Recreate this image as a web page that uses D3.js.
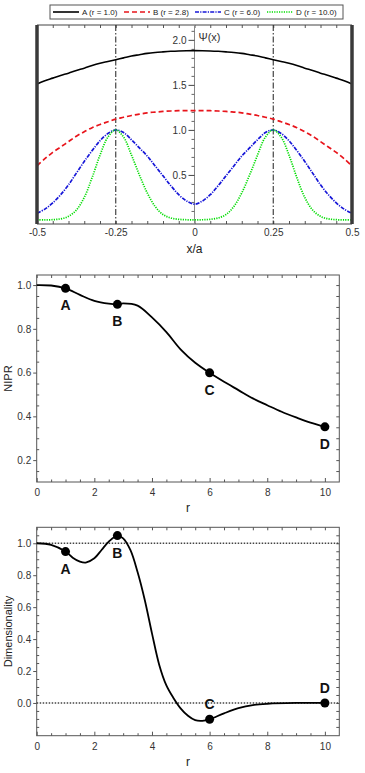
<!DOCTYPE html>
<html>
<head>
<meta charset="utf-8">
<script src="https://cdn.jsdelivr.net/npm/d3@7"></script>
<style>
  body { margin: 0; background: #fff; }
  text { font-family: "Liberation Sans", Arial, sans-serif; }
</style>
</head>
<body>
<div id="chart"></div>
<script>
// ---------- data ----------
// wavefunction panel, x/a from -0.5 to 0.5
const psiX = [-0.5,-0.475,-0.45,-0.425,-0.4,-0.375,-0.35,-0.325,-0.3,-0.275,-0.25,-0.225,-0.2,-0.175,-0.15,-0.125,-0.1,-0.075,-0.05,-0.025,0,
  0.025,0.05,0.075,0.1,0.125,0.15,0.175,0.2,0.225,0.25,0.275,0.3,0.325,0.35,0.375,0.4,0.425,0.45,0.475,0.5]
const psiA = [1.51,1.545,1.575,1.605,1.63,1.66,1.685,1.715,1.74,1.76,1.78,1.80,1.82,1.835,1.85,1.86,1.867,1.873,1.877,1.879,1.88,
  1.879,1.877,1.873,1.867,1.86,1.85,1.835,1.82,1.80,1.78,1.76,1.74,1.715,1.685,1.66,1.63,1.605,1.575,1.545,1.51]
const psiB = [0.60,0.68,0.75,0.81,0.87,0.93,0.98,1.025,1.06,1.09,1.12,1.14,1.16,1.175,1.19,1.198,1.205,1.21,1.213,1.215,1.215,
  1.215,1.213,1.21,1.205,1.198,1.19,1.175,1.16,1.14,1.12,1.09,1.06,1.025,0.98,0.93,0.87,0.81,0.75,0.68,0.60]
const psiC = [0.075,0.12,0.19,0.28,0.39,0.52,0.65,0.77,0.88,0.96,1.0,0.97,0.89,0.80,0.71,0.60,0.49,0.38,0.28,0.21,0.175,
  0.21,0.28,0.38,0.49,0.60,0.71,0.80,0.89,0.97,1.0,0.96,0.88,0.77,0.65,0.52,0.39,0.28,0.19,0.12,0.075]
const psiD = [0.0,0.0,0.003,0.012,0.04,0.11,0.25,0.47,0.72,0.92,1.0,0.92,0.72,0.5,0.3,0.15,0.06,0.022,0.007,0.002,0.0,
  0.002,0.007,0.022,0.06,0.15,0.3,0.5,0.72,0.92,1.0,0.92,0.72,0.47,0.25,0.11,0.04,0.012,0.003,0.0,0.0]
const legendNames = ["A (r = 1.0)", "B (r = 2.8)", "C (r = 6.0)", "D (r = 10.0)"]
const wellCenters = [-0.25, 0.25]
const psiXTicks = [-0.5, -0.25, 0, 0.25, 0.5]
const psiXTickLabels = ["-0.5", "-0.25", "0", "0.25", "0.5"]
const psiYTicks = [0.5, 1.0, 1.5, 2.0]

// NIPR vs r
const rNipr = [0,0.5,1,1.5,2,2.5,2.8,3,3.5,4,4.5,5,5.5,6,6.5,7,7.5,8,8.5,9,9.5,10]
const nipr = [1.0,0.998,0.985,0.955,0.928,0.915,0.912,0.916,0.906,0.852,0.785,0.705,0.645,0.599,0.558,0.52,0.482,0.451,0.421,0.395,0.371,0.352]

// dimensionality vs r
const rDim = [0,0.5,1,1.25,1.5,1.7,2,2.25,2.5,2.8,3,3.25,3.5,3.75,4,4.25,4.5,4.75,5,5.25,5.5,5.75,6,6.5,7,7.5,8,9,10]
const dim = [1.0,0.99,0.948,0.91,0.885,0.879,0.906,0.958,1.01,1.048,1.031,0.958,0.82,0.645,0.436,0.24,0.11,0.03,-0.035,-0.08,-0.108,-0.112,-0.102,-0.065,-0.033,-0.013,-0.005,0.0,0.0]

const markNames = ["A", "B", "C", "D"]
const markR = [1.0, 2.8, 6.0, 10.0]
const markNipr = [0.985, 0.912, 0.599, 0.352]
const markDim = [0.948, 1.048, -0.102, 0.0]
const dimRefLines = [0, 1]

const rTicks = [0, 2, 4, 6, 8, 10]
const niprTicks = [0.2, 0.4, 0.6, 0.8, 1.0]
const dimTicks = [0.0, 0.2, 0.4, 0.6, 0.8, 1.0]

// ---------- svg ----------
let width = 365
let height = 773
let svg = d3.select("#chart")
  .append("svg")
  .attr("width", width)
  .attr("height", height)

let fmt1 = d3.format(".1f")

// ================= panel 1 : wavefunctions =================
let x1 = d3.scaleLinear().domain([-0.5, 0.5]).range([37, 352])
let y1 = d3.scaleLinear().domain([-0.045, 2.165]).range([224, 25])

// legend box
let legend = svg.append("g")
legend.append("rect")
  .attr("x", 50).attr("y", 5).attr("width", 293).attr("height", 14)
  .attr("fill", "#fff").attr("stroke", "#555")

let colors = ["#000", "#e8141b", "#1616d8", "#00dd00"]
let dashes = [null, "5,3", "4,1.2,1.2,1.2", "1.2,1.2"]
let legendX = [53, 124, 195, 267]

legendNames.forEach((name, i) => {
  legend.append("line")
    .attr("x1", legendX[i]).attr("x2", legendX[i] + 26)
    .attr("y1", 12).attr("y2", 12)
    .attr("stroke", colors[i]).attr("stroke-width", 1.6)
    .attr("stroke-dasharray", dashes[i])
  legend.append("text")
    .attr("x", legendX[i] + 29).attr("y", 15)
    .attr("font-size", 8).attr("fill", "#222")
    .text(name)
})

// x ticks along top and bottom edges (inside)
let psiMinor = d3.range(-0.5, 0.5001, 0.05)
svg.append("g")
  .attr("transform", "translate(0,224)")
  .attr("color", "#555")
  .call(d3.axisBottom(x1).tickValues(psiMinor).tickSize(-3).tickFormat(""))
  .select(".domain").remove()
svg.append("g")
  .attr("transform", "translate(0,25)")
  .attr("color", "#555")
  .call(d3.axisTop(x1).tickValues(psiMinor).tickSize(-3).tickFormat(""))
  .select(".domain").remove()

svg.append("line")
  .attr("x1", x1(-0.5)).attr("x2", x1(0.5)).attr("y1", 25).attr("y2", 25)
  .attr("stroke", "#444")
svg.append("line")
  .attr("x1", x1(-0.5)).attr("x2", x1(0.5)).attr("y1", 224).attr("y2", 224)
  .attr("stroke", "#444")

// x labels
let xLab1 = svg.append("g")
  .attr("transform", "translate(0,224)")
  .attr("color", "#333")
  .call(d3.axisBottom(x1).tickValues(psiXTicks).tickSize(0).tickPadding(5)
    .tickFormat((d, i) => psiXTickLabels[i]))
xLab1.select(".domain").remove()
xLab1.selectAll("text").attr("font-size", 10).attr("font-family", "Liberation Sans, Arial")

svg.append("text")
  .attr("x", x1(0)).attr("y", 253)
  .attr("text-anchor", "middle").attr("font-size", 12).attr("fill", "#222")
  .text("x/a")

// y axis drawn at x = 0
svg.append("line")
  .attr("x1", x1(0)).attr("x2", x1(0)).attr("y1", 25).attr("y2", 224)
  .attr("stroke", "#888")
let psiYMinor = d3.range(0.1, 2.15, 0.1).filter(v => Math.abs(v * 2 - Math.round(v * 2)) > 0.01)
svg.append("g")
  .attr("transform", `translate(${x1(0)},0)`)
  .attr("color", "#666")
  .call(d3.axisLeft(y1).tickValues(psiYMinor).tickSize(3).tickFormat(""))
  .select(".domain").remove()
let yAx1 = svg.append("g")
  .attr("transform", `translate(${x1(0)},0)`)
  .attr("color", "#444")
  .call(d3.axisLeft(y1).tickValues(psiYTicks).tickSize(6).tickPadding(2).tickFormat(fmt1))
yAx1.select(".domain").remove()
yAx1.selectAll("text").attr("font-size", 10).attr("fill", "#333").attr("font-family", "Liberation Sans, Arial")

svg.append("text")
  .attr("x", x1(0) + 4).attr("y", 41)
  .attr("font-size", 11).attr("fill", "#333")
  .text("\u03A8(x)")

// well centres
svg.selectAll(".well")
  .data(wellCenters)
  .enter()
  .append("line")
  .attr("x1", d => x1(d)).attr("x2", d => x1(d))
  .attr("y1", 25).attr("y2", 224)
  .attr("stroke", "#333").attr("stroke-width", 1.1)
  .attr("stroke-dasharray", "6,2,1.5,2")

// curves
let psiLine = d3.line()
  .x((d, i) => x1(psiX[i]))
  .y(d => y1(d))
  .curve(d3.curveCatmullRom)

let psiSeries = [psiA, psiB, psiC, psiD]
psiSeries.forEach((s, i) => {
  svg.append("path")
    .datum(s)
    .attr("d", psiLine)
    .attr("fill", "none")
    .attr("stroke", colors[i])
    .attr("stroke-width", i == 0 ? 1.6 : 1.7)
    .attr("stroke-dasharray", dashes[i])
})

// barrier walls
svg.selectAll(".wall")
  .data([-0.5, 0.5])
  .enter()
  .append("line")
  .attr("x1", d => x1(d)).attr("x2", d => x1(d))
  .attr("y1", 25).attr("y2", 224)
  .attr("stroke", "#3a3a3a").attr("stroke-width", 3.5)

// ================= panels 2 and 3 =================
function framePanel(x, y, top, bottom, majorY, minorY, yTitle) {
  let left = x.range()[0], right = x.range()[1]

  svg.append("rect")
    .attr("x", left).attr("y", top)
    .attr("width", right - left).attr("height", bottom - top)
    .attr("fill", "none").attr("stroke", "#555")

  let rMinor = d3.range(0.5, 10.5, 0.5).filter(v => v % 2 != 0)

  // bottom
  let bx = svg.append("g")
    .attr("transform", `translate(0,${bottom})`)
    .attr("color", "#555")
    .call(d3.axisBottom(x).tickValues(rTicks).tickSize(-4).tickPadding(7))
  bx.select(".domain").remove()
  bx.selectAll("text").attr("font-size", 10).attr("fill", "#333").attr("font-family", "Liberation Sans, Arial")
  svg.append("g")
    .attr("transform", `translate(0,${bottom})`)
    .attr("color", "#555")
    .call(d3.axisBottom(x).tickValues(rMinor).tickSize(-2.5).tickFormat(""))
    .select(".domain").remove()

  // top
  svg.append("g")
    .attr("transform", `translate(0,${top})`)
    .attr("color", "#555")
    .call(d3.axisTop(x).tickValues(rTicks.concat(rMinor)).tickSize(-3).tickFormat(""))
    .select(".domain").remove()

  // left
  let ly = svg.append("g")
    .attr("transform", `translate(${left},0)`)
    .attr("color", "#555")
    .call(d3.axisLeft(y).tickValues(majorY).tickSize(3.5).tickPadding(2).tickFormat(fmt1))
  ly.select(".domain").remove()
  ly.selectAll("text").attr("font-size", 10).attr("fill", "#333").attr("font-family", "Liberation Sans, Arial")
  svg.append("g")
    .attr("transform", `translate(${left},0)`)
    .attr("color", "#555")
    .call(d3.axisLeft(y).tickValues(minorY).tickSize(-2.5).tickFormat(""))
    .select(".domain").remove()

  // right
  svg.append("g")
    .attr("transform", `translate(${right},0)`)
    .attr("color", "#555")
    .call(d3.axisRight(y).tickValues(majorY.concat(minorY)).tickSize(-3).tickFormat(""))
    .select(".domain").remove()

  svg.append("text")
    .attr("x", (left + right) / 2).attr("y", bottom + 30)
    .attr("text-anchor", "middle").attr("font-size", 12).attr("fill", "#222")
    .text("r")

  svg.append("text")
    .attr("transform", `translate(12,${(top + bottom) / 2}) rotate(-90)`)
    .attr("text-anchor", "middle").attr("font-size", 11).attr("fill", "#222")
    .text(yTitle)
}

function drawMarks(x, y, vals, sides) {
  svg.selectAll(null)
    .data(vals)
    .enter()
    .append("circle")
    .attr("cx", (d, i) => x(markR[i]))
    .attr("cy", d => y(d))
    .attr("r", 4.5)
    .attr("fill", "#000")
  svg.selectAll(null)
    .data(vals)
    .enter()
    .append("text")
    .attr("x", (d, i) => x(markR[i]))
    .attr("y", (d, i) => y(d) + (sides[i] == "below" ? 22 : -10))
    .attr("text-anchor", "middle")
    .attr("font-size", 14).attr("font-weight", "bold").attr("fill", "#111")
    .text((d, i) => markNames[i])
}

// ---- panel 2 : NIPR ----
let x2 = d3.scaleLinear().domain([0, 10.5]).range([36.7, 339.3])
let y2 = d3.scaleLinear().domain([0.1, 1.046]).range([482, 275])
let niprMinor = d3.range(0.15, 1.04, 0.05).filter(v => Math.abs(v * 5 - Math.round(v * 5)) > 0.01)
framePanel(x2, y2, 275, 482, niprTicks, niprMinor, "NIPR")

svg.append("path")
  .datum(nipr)
  .attr("d", d3.line().x((d, i) => x2(rNipr[i])).y(d => y2(d)).curve(d3.curveCatmullRom))
  .attr("fill", "none").attr("stroke", "#000").attr("stroke-width", 1.8)
drawMarks(x2, y2, markNipr, ["below", "below", "below", "below"])

// ---- panel 3 : dimensionality ----
let x3 = d3.scaleLinear().domain([0, 10.5]).range([36.7, 339.3])
let y3 = d3.scaleLinear().domain([-0.205, 1.1]).range([735.7, 527.3])
let dimMinor = d3.range(-0.15, 1.1, 0.05).filter(v => Math.abs(v * 5 - Math.round(v * 5)) > 0.01)
framePanel(x3, y3, 527.3, 735.7, dimTicks, dimMinor, "Dimensionality")

svg.selectAll(null)
  .data(dimRefLines)
  .enter()
  .append("line")
  .attr("x1", x3(0)).attr("x2", x3(10.5))
  .attr("y1", d => y3(d)).attr("y2", d => y3(d))
  .attr("stroke", "#444").attr("stroke-width", 1.5)
  .attr("stroke-dasharray", "1.5,1.5")

svg.append("path")
  .datum(dim)
  .attr("d", d3.line().x((d, i) => x3(rDim[i])).y(d => y3(d)).curve(d3.curveCatmullRom))
  .attr("fill", "none").attr("stroke", "#000").attr("stroke-width", 1.8)
drawMarks(x3, y3, markDim, ["below", "below", "above", "above"])
</script>
</body>
</html>
